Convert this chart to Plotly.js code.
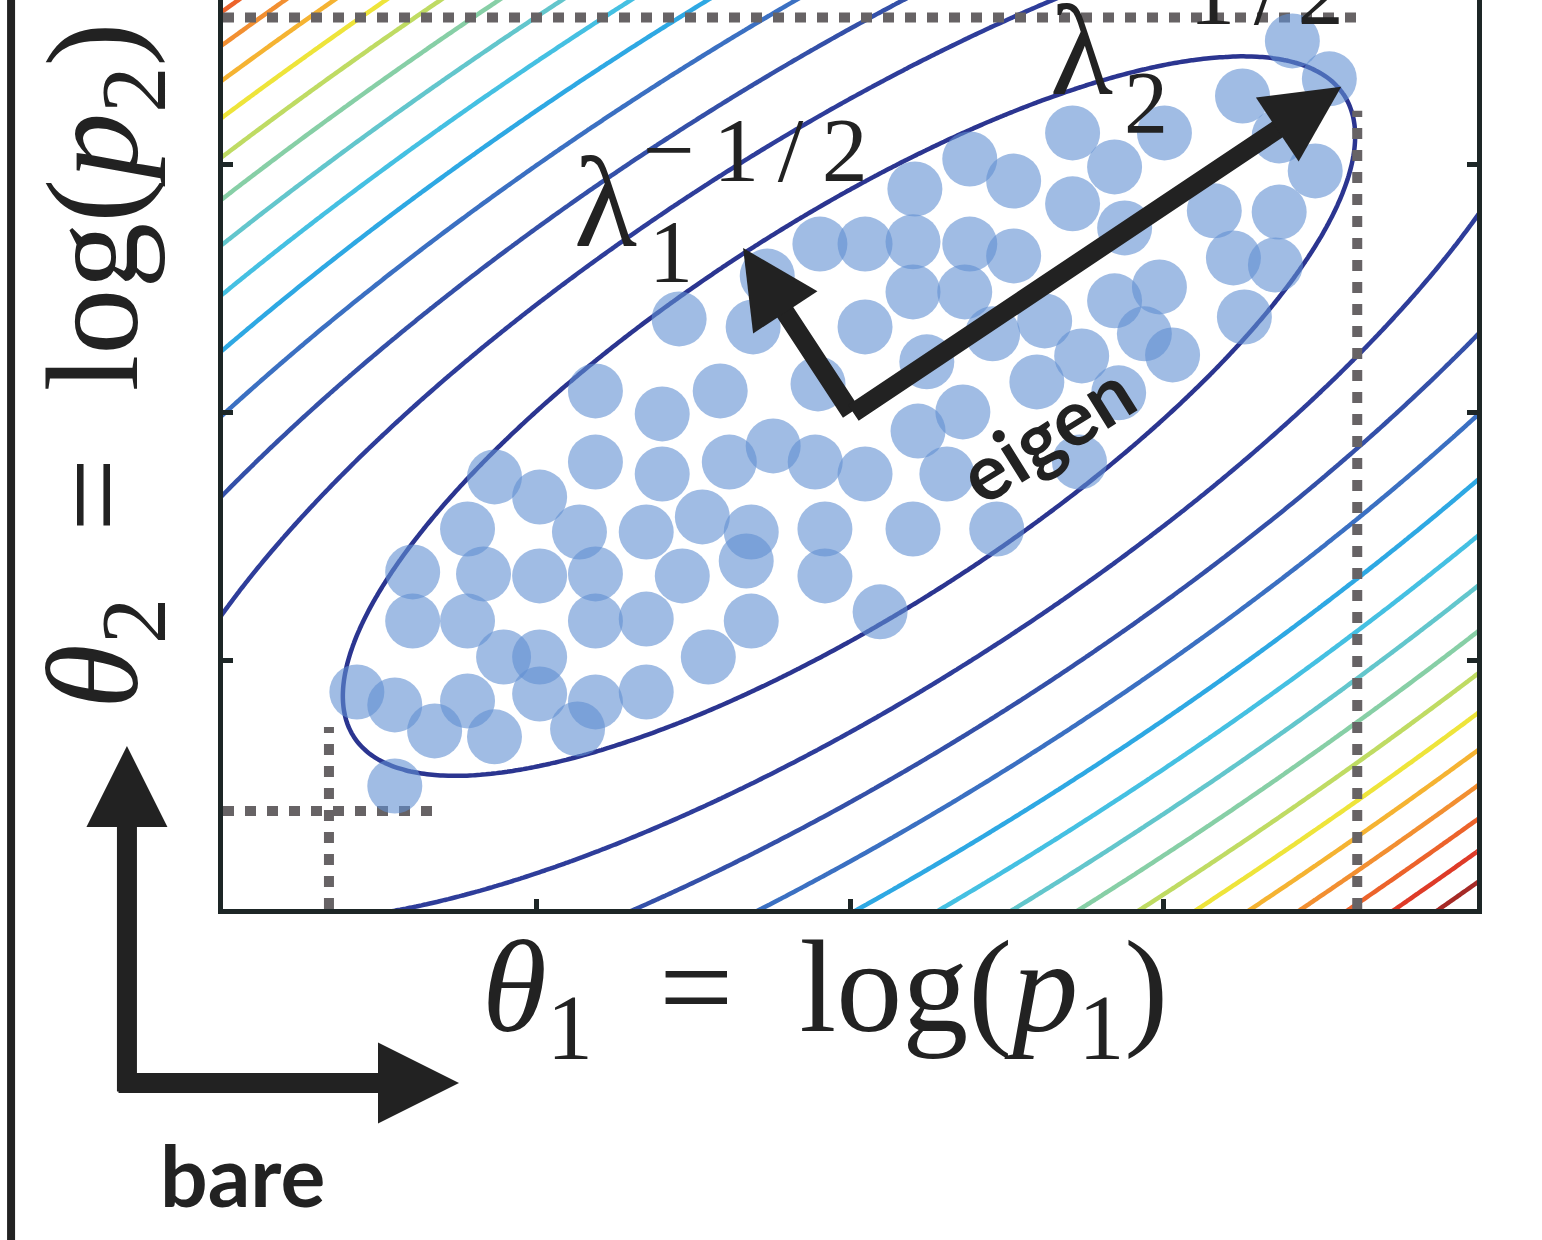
<!DOCTYPE html>
<html><head><meta charset="utf-8">
<script src="https://cdn.plot.ly/plotly-3.0.1.min.js"></script>
<style>html,body{margin:0;padding:0;background:#fff}</style>
</head><body>
<div id="chart" style="width:1542px;height:1240px"></div>
<script>
// ---- samples (theta1, theta2) ----
const sampleTheta1 = [3.411,3.529,3.252,3.369,3.484,3.003,2.710,2.844,2.522,2.710,2.876,3.162,3.369,3.223,3.357,2.522,2.987,2.844,3.258,2.939,3.029,2.739,2.621,2.596,2.857,2.732,2.468,
 2.382,2.207,1.904,2.048,2.201,2.382,2.201,2.366,2.455,2.048,2.245,1.898,1.691,1.455,1.736,2.360,2.217,2.309,2.048,1.889,1.755,1.586,1.401,1.188,1.615,1.401,1.188,1.010,0.866,
 1.529,1.350,1.137,0.780,1.685,1.920,2.201,0.605,0.831,1.010,1.188,1.465,1.669,1.920,0.605,0.780,1.188,1.350,1.685,2.096,0.895,1.010,1.548,0.427,0.548,0.780,1.010,1.188,1.350,0.675,0.866,1.131,0.548];
const sampleTheta2 = [3.500,3.347,3.278,3.117,2.976,3.129,3.129,2.992,2.935,2.843,2.746,2.815,2.810,2.625,2.597,2.633,2.508,2.452,2.387,2.319,2.234,2.230,2.371,2.125,2.081,1.802,1.532,
 3.024,2.903,2.681,2.681,2.690,2.681,2.488,2.488,2.319,2.347,2.206,2.117,2.347,2.379,2.552,2.004,1.927,1.754,1.754,1.802,1.867,2.089,1.996,2.089,1.802,1.754,1.802,1.661,1.742,
 1.581,1.520,1.520,1.532,1.520,1.532,1.532,1.359,1.351,1.343,1.351,1.343,1.403,1.343,1.161,1.161,1.161,1.169,1.161,1.198,1.016,1.016,1.016,0.875,0.823,0.839,0.867,0.835,0.875,0.718,0.694,0.726,0.496];

// ---- cost contours: where each level line meets the frame ----
const contourLevels = [1,2,3,4,5,6,7,8,9,10,11,12,13,14,15];
const levelColors = ['#2b3590','#2e3d9a','#3450a8','#3b70c2','#2ea8e3','#45c0e2','#63c6cc','#87cfa6',
                     '#bfdb63','#eee43a','#f5b332','#f28f31','#ec632b','#de3b28','#a52a26'];
const leftEdgeLevels = [2,3,4,5,6,7,8,9,10,11,12,13];              // at theta1 = 0
const leftEdgeTheta2 = [1.202,1.681,2.004,2.258,2.492,2.690,2.875,3.048,3.206,3.355,3.496,3.629];
const bottomEdgeLevels = [2,3,4,5,6,7,8,9,10,11,12,13,14,15];      // at theta2 = 0
const bottomEdgeTheta1 = [0.525,1.299,1.704,2.013,2.277,2.513,2.723,2.920,3.099,3.274,3.433,3.586,3.729,3.879];
const rightEdgeLevels = [2,9,10,11,12,13,14,15];                   // at theta1 = 4
const rightEdgeTheta2 = [2.758,0.948,0.794,0.645,0.496,0.363,0.242,0.109];
// innermost (level 1) ellipse, points along it
const innerTheta1 = [0.398,0.417,0.525,0.758,1.099,1.529,2.096,2.465,0.675,1.045,1.385,1.656,2.137,2.478,2.809,3.252,3.471,3.583,3.605,3.583,3.516,3.363,3.115,2.796];
const innerTheta2 = [0.915,0.714,0.605,0.556,0.617,0.698,1.036,1.492,1.520,2.016,2.379,2.661,2.996,3.157,3.347,3.423,3.391,3.306,3.109,2.887,2.690,2.423,2.137,1.815];

// ---- eigen arrows ----
const center = [2.006, 1.996];
const eigenTip1 = [1.659, 2.665];   // lambda_1^{-1/2}
const eigenTip2 = [3.567, 3.315];   // lambda_2^{-1/2}

// ---- dotted guide lines ----
const guideA_x = [0.338, 0.338], guideA_y = [0, 0.734];
const guideB_x = [0, 0.669],     guideB_y = [0.395, 0.395];
const guideC_x = [0, 3.618],     guideC_y = [3.594, 3.594];
const guideD_x = [3.618, 3.618], guideD_y = [0, 3.218];

// axis ticks
const xTicks = [1, 2, 3];
const yTicks = [1, 2, 3];

// ---- least-squares quadratic surface through the read crossings ----
const px = [], py = [], pl = [];
leftEdgeLevels.forEach((l, i) => { px.push(0); py.push(leftEdgeTheta2[i]); pl.push(l); });
bottomEdgeLevels.forEach((l, i) => { px.push(bottomEdgeTheta1[i]); py.push(0); pl.push(l); });
rightEdgeLevels.forEach((l, i) => { px.push(4); py.push(rightEdgeTheta2[i]); pl.push(l); });
innerTheta1.forEach((x, i) => { px.push(x); py.push(innerTheta2[i]); pl.push(1); });

function fitQuadratic() {
  const N = 6, M = [], rhs = new Array(N).fill(0);
  for (let r = 0; r < N; r++) M.push(new Array(N).fill(0));
  for (let i = 0; i < px.length; i++) {
    const X = px[i], Y = py[i], f = [X*X, X*Y, Y*Y, X, Y, 1], w = 1 / pl[i];
    for (let r = 0; r < N; r++) { rhs[r] += w*f[r]*pl[i]; for (let c = 0; c < N; c++) M[r][c] += w*f[r]*f[c]; }
  }
  for (let k = 0; k < N; k++) {
    let p = k;
    for (let r = k+1; r < N; r++) if (Math.abs(M[r][k]) > Math.abs(M[p][k])) p = r;
    [M[k], M[p]] = [M[p], M[k]]; [rhs[k], rhs[p]] = [rhs[p], rhs[k]];
    for (let r = k+1; r < N; r++) {
      const t = M[r][k] / M[k][k];
      for (let c = k; c < N; c++) M[r][c] -= t*M[k][c];
      rhs[r] -= t*rhs[k];
    }
  }
  const s = new Array(N).fill(0);
  for (let k = N-1; k >= 0; k--) {
    let v = rhs[k];
    for (let c = k+1; c < N; c++) v -= M[k][c]*s[c];
    s[k] = v / M[k][k];
  }
  return s;
}
const q = fitQuadratic();
const gx = [], gy = [], gz = [];
for (let i = 0; i <= 240; i++) gx.push(-0.05 + i*4.1/240);
for (let j = 0; j <= 220; j++) gy.push(-0.05 + j*3.8/220);
for (const y of gy) gz.push(gx.map(x => q[0]*x*x + q[1]*x*y + q[2]*y*y + q[3]*x + q[4]*y + q[5]));

const ink = '#222222';
const guideStyle = {color:'#676365', width:10, dash:'11px,11px'};

const traces = contourLevels.map((lv, k) => ({
  type:'contour', x:gx, y:gy, z:gz, autocontour:false,
  contours:{start:lv, end:lv + 0.5, size:1, coloring:'none', showlabels:false},
  line:{width:4.5, smoothing:1, color:levelColors[k]}, showscale:false, hoverinfo:'skip'
}));
traces.push(
  {type:'scatter', mode:'lines', x:guideA_x, y:guideA_y, line:guideStyle, hoverinfo:'skip'},
  {type:'scatter', mode:'lines', x:guideB_x, y:guideB_y, line:guideStyle, hoverinfo:'skip'},
  {type:'scatter', mode:'lines', x:guideC_x, y:guideC_y, line:guideStyle, hoverinfo:'skip'},
  {type:'scatter', mode:'lines', x:guideD_x, y:guideD_y, line:guideStyle, hoverinfo:'skip'},
  {type:'scatter', mode:'markers', x:sampleTheta1, y:sampleTheta2,
   marker:{size:55, color:'rgba(97,143,210,0.6)', line:{width:0}}, hoverinfo:'skip'}
);

const serif = 'Liberation Serif, DejaVu Serif, serif';
const sans = 'Lato, Open Sans, sans-serif';
function txt(text, x, y, size, extra) {
  return Object.assign({xref:'paper', yref:'paper', x:x, y:y, text:text, showarrow:false,
    xanchor:'center', yanchor:'middle', font:{family:serif, size:size, color:ink}}, extra||{});
}
function arr(tip, tail, w) {
  return {xref:'x', yref:'y', axref:'x', ayref:'y', x:tip[0], y:tip[1], ax:tail[0], ay:tail[1],
    text:'', showarrow:true, arrowhead:2, arrowsize:0.81, arrowwidth:w, arrowcolor:ink, standoff:0};
}
const th = '\u2009';
const supText = '\u2212' + th + '1' + th + '/' + th + '2';

const annotations = [
  arr(eigenTip1, center, 19),
  arr(eigenTip2, center, 19),
  {xref:'paper', yref:'paper', x:-0.0766, y:0.1793, ax:0, ay:347, text:'', showarrow:true,
   arrowhead:2, arrowsize:0.81, arrowwidth:20, arrowcolor:ink},
  {xref:'paper', yref:'paper', x:0.1882, y:-0.1914, ax:-342, ay:0, text:'', showarrow:true,
   arrowhead:2, arrowsize:0.81, arrowwidth:20, arrowcolor:ink},
  txt('bare', 0.0155, -0.2926, 84, {font:{family:sans, size:84, color:ink, weight:700}}),
  txt('eigen', 0.6565, 0.5250, 78, {textangle:-32, font:{family:sans, size:78, color:ink, weight:700}}),
  txt('<i>θ</i><sub>1</sub>  =  log(<i>p</i><sub>1</sub>)', 0.4800, -0.0960, 132),
  txt('<i>θ</i><sub>2</sub>  =  log(<i>p</i><sub>2</sub>)', -0.0960, 0.597, 132, {textangle:-90}),
  txt('λ', 0.3054, 0.7778, 130),
  txt('1', 0.3573, 0.7228, 88),
  txt(supText, 0.4245, 0.8350, 92),
  txt('λ', 0.6850, 0.9450, 130),
  txt('2', 0.7360, 0.8867, 88),
  txt(supText, 0.8040, 1.0077, 92)
];

const axisCommon = {showgrid:false, zeroline:false, showticklabels:false, showline:true,
  linewidth:5, linecolor:'#1d2626', ticks:'inside', ticklen:10, tickwidth:5, tickcolor:'#1d2626', fixedrange:true};

const layout = {
  width:1542, height:1240, margin:{l:223, r:65, t:0, b:331},
  paper_bgcolor:'#ffffff', plot_bgcolor:'#ffffff', showlegend:false,
  xaxis:Object.assign({}, axisCommon, {range:[0,4], tickvals:xTicks, mirror:false}),
  yaxis:Object.assign({}, axisCommon, {range:[0,3.665], tickvals:yTicks, mirror:'ticks'}),
  annotations:annotations,
  shapes:[{type:'line', xref:'paper', yref:'paper', x0:-0.169, x1:-0.169, y0:1.01, y1:-0.37,
           line:{color:ink, width:8}}]
};

Plotly.newPlot('chart', traces, layout, {staticPlot:true});
</script>
</body></html>
